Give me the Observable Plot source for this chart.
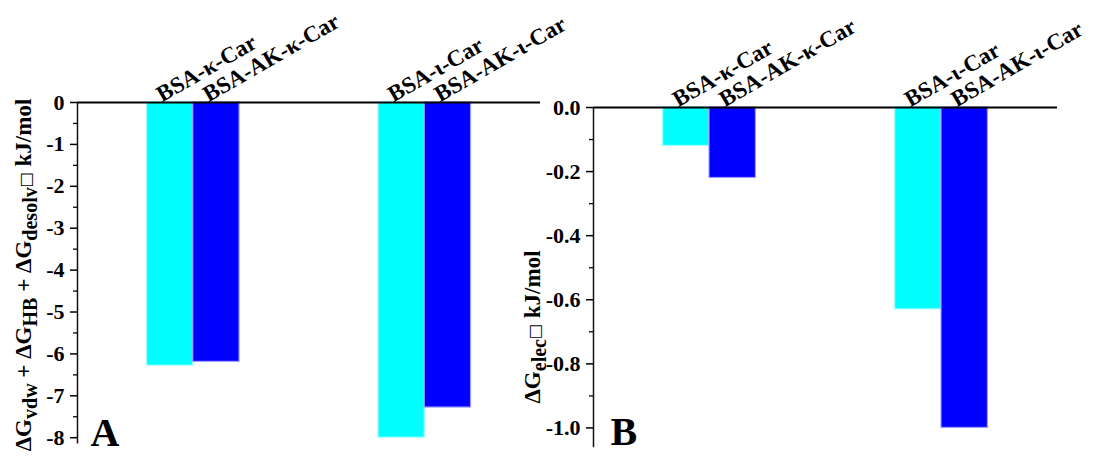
<!DOCTYPE html>
<html><head><meta charset="utf-8">
<script src="https://cdn.jsdelivr.net/npm/d3@7"></script>
<script src="https://cdn.jsdelivr.net/npm/@observablehq/plot@0.6"></script>
<style>
body{margin:0;background:#fff;}
#wrap{position:relative;width:1093px;height:463px;overflow:hidden;background:#fff;}
#wrap svg{position:absolute;top:0;overflow:visible;}
</style></head><body><div id="wrap"></div>
<script>
// ---- data ----
const categories = ["BSA-κ-Car", "BSA-AK-κ-Car", "BSA-ι-Car", "BSA-AK-ι-Car"];
const groupIndex = [1, 1, 2, 2];          // carrageenan group (κ, ι)
const seriesIndex = [0, 1, 0, 1];         // 0 = BSA, 1 = BSA-AK
const valuesA = [-6.28, -6.19, -8.00, -7.28];   // ΔGvdw + ΔGHB + ΔGdesolv (kJ/mol)
const valuesB = [-0.12, -0.22, -0.63, -1.00];   // ΔGelec (kJ/mol)
const seriesFill = ["#00ffff", "#0000ff"];
const seriesStroke = ["#a8ffff", "#9c9cff"];
const ticksA = [0, -1, -2, -3, -4, -5, -6, -7, -8];
const minorA = [-0.5, -1.5, -2.5, -3.5, -4.5, -5.5, -6.5, -7.5];
const ticksB = [0, -0.2, -0.4, -0.6, -0.8, -1.0];
const minorB = [-0.1, -0.3, -0.5, -0.7, -0.9];

const FONT = "'Liberation Serif', 'Times New Roman', serif";
const BAR = 0.2;

function rows(values) {
  return categories.map((c, i) => ({
    cat: c, g: groupIndex[i], s: seriesIndex[i], value: values[i],
    fill: seriesFill[seriesIndex[i]], stroke: seriesStroke[seriesIndex[i]]
  }));
}

function panel({values, domain, ticks, minor, fmt, width, height, margin, letter, letterDx, letterDy}) {
  const data = rows(values);
  return Plot.plot({
    width, height,
    marginLeft: margin[0], marginRight: margin[1], marginTop: margin[2], marginBottom: margin[3],
    x: {domain: [0.5, 2.5], axis: null},
    y: {domain, axis: null},
    color: {type: "identity"},
    style: {background: "transparent", overflow: "visible", fontFamily: FONT, fontSize: "22px", fontWeight: "bold", color: "#000"},
    marks: [
      Plot.rectY(data, {
        x1: d => d.g - BAR + d.s * BAR, x2: d => d.g + d.s * BAR,
        y1: 0, y2: "value", fill: "fill", stroke: "stroke", strokeWidth: 1.2
      }),
      Plot.axisY(minor, {anchor: "left", tickSize: 4, tickFormat: () => "", strokeWidth: 1.3, label: null}),
      Plot.axisY(ticks, {anchor: "left", tickSize: 7, tickPadding: 6, tickFormat: fmt, strokeWidth: 1.5, label: null}),
      Plot.ruleX([0.5], {stroke: "#111", strokeWidth: 1.5}),
      Plot.ruleY([0], {stroke: "#000", strokeWidth: 2}),
      Plot.text(data, {
        x: d => d.g - BAR / 2 + d.s * BAR, y: 0, text: "cat",
        rotate: -30, textAnchor: "start", lineAnchor: "bottom",
        dx: -8, dy: 0, fontSize: 23, fontWeight: "bold", fill: "#000"
      }),
      Plot.text([letter], {
        frameAnchor: "bottom-left", textAnchor: "start", lineAnchor: "bottom",
        dx: letterDx, dy: letterDy, fontSize: 40, fontWeight: "bold", fill: "#000"
      })
    ]
  });
}

function addYLabel(svg, x, y, parts) {
  const t = d3.select(svg).append("text")
    .attr("transform", `translate(${x},${y}) rotate(-90)`)
    .attr("text-anchor", "middle")
    .attr("font-family", FONT).attr("font-weight", "bold").attr("font-size", 23)
    .attr("fill", "#000");
  for (const [txt, kind] of parts) {
    const ts = t.append("tspan").text(txt);
    if (kind === "sub") ts.attr("font-size", 20).attr("dy", 6);
    else if (kind === "back") ts.attr("dy", -6);
    else if (kind === "box") ts.attr("dy", -6).attr("font-weight", "normal").attr("font-size", 16).attr("font-family", "DejaVu Sans");
  }
}

const wrap = document.getElementById("wrap");

const A = panel({
  values: valuesA, domain: [-8.15, 0], ticks: ticksA, minor: minorA,
  fmt: d => String(d), width: 546, height: 463, margin: [77, 6, 102, 19.5],
  letter: "A", letterDx: 13, letterDy: 2
});
A.style.left = "0px";
wrap.appendChild(A);
addYLabel(A, 31, 275, [["ΔG"], ["vdw", "sub"], [" + ΔG", "back"], ["HB", "sub"], [" + ΔG", "back"], ["desolv", "sub"], ["□", "box"], [" kJ/mol"]]);

const B = panel({
  values: valuesB, domain: [-1.062, 0], ticks: ticksB, minor: minorB,
  fmt: d => d.toFixed(1), width: 578, height: 463, margin: [78, 36, 107, 15.7],
  letter: "B", letterDx: 17, letterDy: -3
});
B.style.left = "515px";
wrap.appendChild(B);
addYLabel(B, 25, 327, [["ΔG"], ["elec", "sub"], ["□", "box"], [" kJ/mol"]]);
</script>
</body></html>
